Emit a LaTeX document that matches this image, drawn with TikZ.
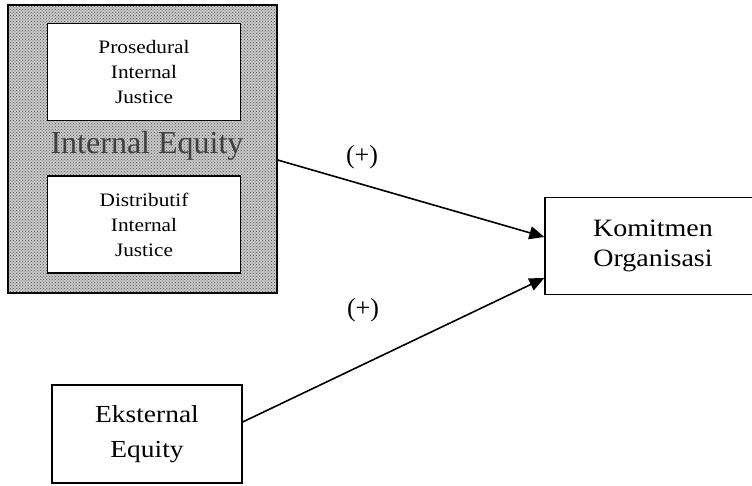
\documentclass[tikz,border=0pt]{standalone}
\usepackage{fontspec}
\setmainfont{Liberation Serif}[FakeStretch=1.12]
\newfontfamily\plainserif{Liberation Serif}
\usetikzlibrary{arrows.meta,patterns,calc}
\begin{document}
\begin{tikzpicture}[x=1pt,y=-1pt,
  inbox/.style={draw=black,line width=1.3pt,fill=white,minimum width=193pt,minimum height=97pt,align=center,inner sep=0pt,font=\fontsize{19}{25}\selectfont},
  mainbox/.style={draw=black,line width=1.3pt,fill=white,align=center,inner sep=0pt},
  conn/.style={line width=1.6pt,-{Triangle[length=15pt,width=13pt]}},
  sign/.style={font=\plainserif\fontsize{26}{28}\selectfont}]
\useasboundingbox (0,0) rectangle (752,485);
\clip (0,0) rectangle (752,485);
% outer shaded box
\node[draw=black,line width=1.3pt,fill=black!22,minimum width=269pt,minimum height=288pt,inner sep=0pt] (ie) at (142.5,149) {};
\fill[pattern=crosshatch dots,pattern color=black!65] (ie.south west) rectangle (ie.north east);
\draw[line width=1.3pt] (ie.south west) rectangle (ie.north east);
\node[inbox] (pro) at (144,72) {Prosedural\\Internal\\Justice};
\node[inbox] (dis) at (144,224.5) {Distributif\\Internal\\Justice};
\node[font=\plainserif\fontsize{32}{34}\selectfont,text=black!75] (iet) at (147,146) {Internal Equity};
% right box
\node[mainbox,minimum width=216pt,minimum height=97pt,font=\fontsize{25}{30}\selectfont] (ko) at (653,246) {Komitmen\\Organisasi};
% eksternal
\node[mainbox,minimum width=190pt,minimum height=98pt,font=\fontsize{24.5}{35}\selectfont] (ek) at (147,434) {Eksternal\\Equity};
% connectors
\draw[conn] ($(ie.east)+(0,11)$) -- ($(ko.west)+(0,-9)$);
\draw[conn] ($(ek.east)+(0,-12)$) -- ($(ko.west)+(0,32)$);
\node[sign] (s1) at (362,157) {(+)};
\node[sign] (s2) at (363,310) {(+)};
\end{tikzpicture}
\end{document}
